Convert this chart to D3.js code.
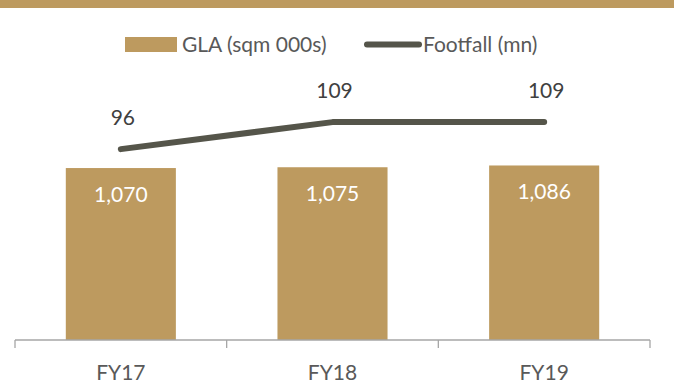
<!DOCTYPE html>
<html>
<head>
<meta charset="utf-8">
<script src="https://cdn.jsdelivr.net/npm/d3@7"></script>
<style>
  html, body { margin: 0; padding: 0; background: #fff; }
  svg { display: block; font-family: Lato, "Open Sans", sans-serif; }
</style>
</head>
<body>
<svg id="chart" width="674" height="390"></svg>
<script>
const categories = ["FY17", "FY18", "FY19"];
const glaValues = [1070, 1075, 1086];
const footfallValues = [96, 109, 109];
const glaLabels = ["1,070", "1,075", "1,086"];
const footfallLabels = ["96", "109", "109"];
const seriesNames = ["GLA (sqm 000s)", "Footfall (mn)"];

const gold = "#BD9A5F";
const olive = "#55554A";
const grey = "#595959";
const fontSize = 21;

const svg = d3.select("#chart");
const W = 674, H = 390;
const margin = { left: 15, right: 24, baseline: 340 };

// top band
svg.append("rect").attr("x", 0).attr("y", 0).attr("width", W).attr("height", 8).attr("fill", gold);

const x = d3.scaleBand()
  .domain(categories)
  .range([margin.left, W - margin.right])
  .paddingInner(0.48)
  .paddingOuter(0.24);

const yBar = d3.scaleLinear().domain([0, 1400]).range([margin.baseline, margin.baseline - 1400 * 0.1607]);
const yLine = d3.scaleLinear().domain([0, 120]).range([348.5, 348.5 - 120 * 2.077]);

// bars
svg.append("g").selectAll("rect")
  .data(categories)
  .join("rect")
  .attr("x", d => x(d))
  .attr("width", x.bandwidth())
  .attr("y", (d, i) => yBar(glaValues[i]))
  .attr("height", (d, i) => yBar(0) - yBar(glaValues[i]))
  .attr("fill", gold);

// bar value labels
svg.append("g").selectAll("text")
  .data(categories)
  .join("text")
  .attr("x", d => x(d) + x.bandwidth() / 2)
  .attr("y", (d, i) => yBar(glaValues[i]) + 34)
  .attr("text-anchor", "middle")
  .attr("fill", "#fff")
  .attr("font-size", fontSize)
  .text((d, i) => glaLabels[i]);

// x axis with category boundaries as ticks
const edges = d3.range(categories.length + 1).map(i => margin.left + i * (W - margin.left - margin.right) / categories.length);
const axis = svg.append("g");
axis.append("line")
  .attr("x1", edges[0]).attr("x2", edges[edges.length - 1])
  .attr("y1", margin.baseline).attr("y2", margin.baseline)
  .attr("stroke", "#a6a6a6").attr("stroke-width", 1.3);
axis.selectAll("line.tick")
  .data(edges)
  .join("line")
  .attr("class", "tick")
  .attr("x1", d => d).attr("x2", d => d)
  .attr("y1", margin.baseline).attr("y2", margin.baseline + 8)
  .attr("stroke", "#a6a6a6").attr("stroke-width", 1.3);
axis.selectAll("text")
  .data(categories)
  .join("text")
  .attr("x", d => x(d) + x.bandwidth() / 2)
  .attr("y", 380)
  .attr("text-anchor", "middle")
  .attr("fill", grey)
  .attr("font-size", fontSize)
  .text(d => d);

// footfall line
const line = d3.line()
  .x((d, i) => x(categories[i]) + x.bandwidth() / 2)
  .y(d => yLine(d));
svg.append("path")
  .datum(footfallValues)
  .attr("d", line)
  .attr("fill", "none")
  .attr("stroke", olive)
  .attr("stroke-width", 6)
  .attr("stroke-linecap", "round")
  .attr("stroke-linejoin", "round");

svg.append("g").selectAll("text")
  .data(footfallValues)
  .join("text")
  .attr("x", (d, i) => x(categories[i]) + x.bandwidth() / 2 + 2)
  .attr("y", d => yLine(d) - 24)
  .attr("text-anchor", "middle")
  .attr("fill", "#404040")
  .attr("font-size", fontSize)
  .text((d, i) => footfallLabels[i]);

// legend
const legend = svg.append("g");
legend.append("rect").attr("x", 125).attr("y", 37).attr("width", 52).attr("height", 15).attr("fill", gold);
legend.append("text").attr("x", 182).attr("y", 52).attr("fill", grey).attr("font-size", fontSize).text(seriesNames[0]);
legend.append("line").attr("x1", 367).attr("x2", 419).attr("y1", 44.5).attr("y2", 44.5)
  .attr("stroke", olive).attr("stroke-width", 6).attr("stroke-linecap", "round");
legend.append("text").attr("x", 423).attr("y", 52).attr("fill", grey).attr("font-size", fontSize).text(seriesNames[1]);
</script>
</body>
</html>
